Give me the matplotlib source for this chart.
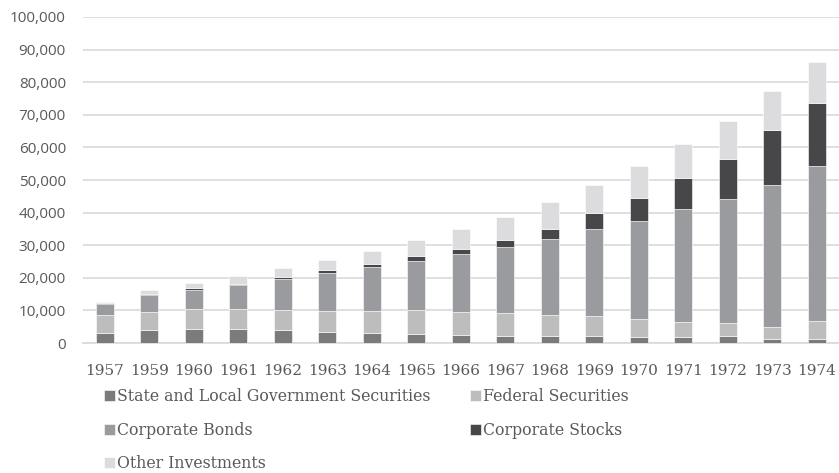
import numpy as np
import matplotlib.pyplot as plt
from matplotlib.ticker import FuncFormatter

# 年（1958はなし）
years = ['1957', '1959', '1960', '1961', '1962', '1963', '1964', '1965', '1966',
         '1967', '1968', '1969', '1970', '1971', '1972', '1973', '1974']

# 各系列の値
state_local = [3200, 4100, 4200, 4400, 3900, 3500, 3000, 2800, 2500,
               2200, 2100, 2100, 1900, 1800, 2100, 1200, 1200]
federal = [5400, 5500, 6100, 6000, 6100, 6400, 6900, 7200, 7000,
           7000, 6500, 6100, 5500, 4700, 4100, 3700, 5500]
corp_bonds = [3400, 5100, 6100, 7400, 9700, 11600, 13400, 15300, 17700,
              20150, 23300, 26800, 30100, 34700, 37900, 43600, 47600]
corp_stocks = [200, 300, 400, 400, 600, 800, 1000, 1300, 1700,
               2300, 3200, 4800, 6900, 9400, 12400, 16800, 19400]
other_inv = [400, 1200, 1500, 2400, 2800, 3300, 3850, 4900, 6000,
             7150, 8000, 8600, 9900, 10300, 11500, 12100, 12400]

series = [
    ('State and Local Government Securities', state_local, '#7b7b7b'),
    ('Federal Securities', federal, '#bdbdbd'),
    ('Corporate Bonds', corp_bonds, '#999b9e'),
    ('Corporate Stocks', corp_stocks, '#474749'),
    ('Other Investments', other_inv, '#dcdcde'),
]

fig = plt.figure(figsize=(8.39, 4.73), dpi=100)
ax = fig.add_axes([0.0985, 0.2748, 0.9015, 0.6893])

x = np.arange(len(years))
bottom = np.zeros(len(years))
bars = []
for name, vals, col in series:
    b = ax.bar(x, vals, 0.40, bottom=bottom, color=col, label=name,
               edgecolor='white', linewidth=0.4, zorder=3)
    bars.append(b)
    bottom += np.array(vals)

ax.set_xlim(-0.5, len(years) - 0.5)
ax.set_ylim(0, 100000)
ax.set_yticks(np.arange(0, 100001, 10000))
ax.yaxis.set_major_formatter(FuncFormatter(lambda v, p: f'{int(v):,}'))
ax.grid(axis='y', color='#d9d9d9', linewidth=1.2, zorder=0)

for s in ['top', 'right', 'left']:
    ax.spines[s].set_visible(False)
ax.spines['bottom'].set_color('#d9d9d9')
ax.spines['bottom'].set_linewidth(1.2)

ax.set_xticks(x)
ax.set_xticklabels(years, family='DejaVu Serif', fontsize=11, color='#595959')
for lab in ax.get_yticklabels():
    lab.set_family('Open Sans')
    lab.set_fontsize(11)
    lab.set_color('#595959')
ax.tick_params(axis='y', length=0, pad=12)
ax.tick_params(axis='x', length=0, pad=15)

# 凡例（行ごとに並ぶように並べ替え）
order = [0, 2, 4, 1, 3]
leg = fig.legend([bars[i] for i in order], [series[i][0] for i in order],
                 ncol=2, loc='upper left', bbox_to_anchor=(0.124, 0.179),
                 frameon=False, handlelength=0.7, handleheight=0.7,
                 handletextpad=0.15, labelspacing=1.04, columnspacing=2.5,
                 borderaxespad=0, borderpad=0,
                 prop={'family': 'DejaVu Serif', 'size': 11.3})
for t in leg.get_texts():
    t.set_color('#595959')

fig.savefig('out.png', dpi=100)
